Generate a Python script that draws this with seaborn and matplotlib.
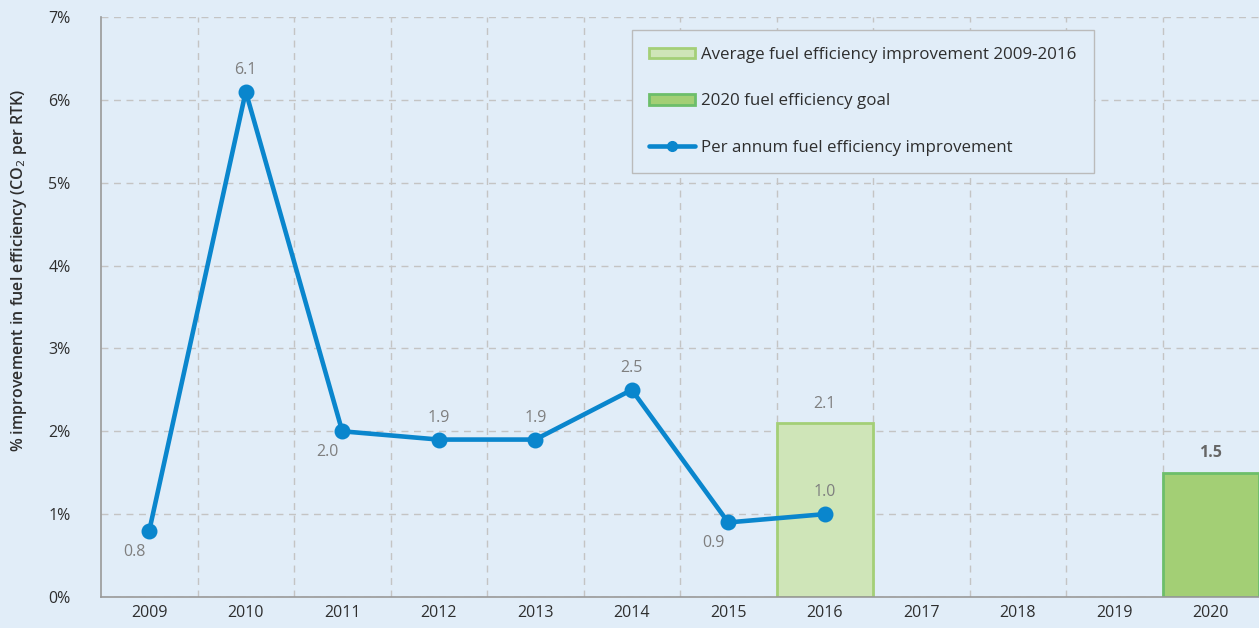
import matplotlib
matplotlib.use('Agg')
import matplotlib.pyplot as plt
import seaborn as sns
import pandas as pd
import numpy as np
from matplotlib.patches import Patch
from matplotlib.lines import Line2D

# data
years = ['2009', '2010', '2011', '2012', '2013', '2014', '2015', '2016',
         '2017', '2018', '2019', '2020']
line_years = ['2009', '2010', '2011', '2012', '2013', '2014', '2015', '2016']
per_annum = [0.8, 6.1, 2.0, 1.9, 1.9, 2.5, 0.9, 1.0]
label_side = ['below', 'above', 'below', 'above', 'above', 'above', 'below', 'above']
avg_year = ['2016']
avg_value = [2.1]
goal_year = ['2020']
goal_value = [1.5]

bg = '#E1EDF8'
line_col = '#0A86CD'
grid_col = '#C4C4C4'
text_col = '#2E2E2E'
label_col = '#7F7F7F'

sns.set_theme(style='white')
plt.rcParams['font.family'] = ['Open Sans', 'DejaVu Sans']

fig = plt.figure(figsize=(12.59, 6.28), dpi=100, facecolor=bg)
ax = fig.add_axes([101 / 1259, 31 / 628, 1158 / 1259, 580 / 628])
ax.set_facecolor(bg)

df_avg = pd.DataFrame({'year': avg_year, 'value': avg_value})
df_goal = pd.DataFrame({'year': goal_year, 'value': goal_value})
df_line = pd.DataFrame({'year': line_years, 'value': per_annum})

sns.barplot(data=df_avg, x='year', y='value', order=years, width=1.0,
            color='#CFE5B8', edgecolor='#A4CF77', linewidth=2, saturation=1,
            ax=ax, zorder=2)
sns.barplot(data=df_goal, x='year', y='value', order=years, width=1.0,
            color='#A3CF75', edgecolor='#6DBE6A', linewidth=2, saturation=1,
            ax=ax, zorder=2)
sns.pointplot(data=df_line, x='year', y='value', order=years, color=line_col,
              markers='o', markersize=9, linewidth=3.3, ax=ax, zorder=3)

# value labels
for yr, v, side in zip(line_years, per_annum, label_side):
    xi = years.index(yr)
    if side == 'above':
        off = (0, 22)
    else:
        off = (-15, -21)
    ax.annotate(f'{v:.1f}', (xi, v), xytext=off, textcoords='offset pixels',
                ha='center', va='center', fontsize=11.5, color=label_col)
for yr, v in zip(avg_year, avg_value):
    ax.annotate(f'{v:.1f}', (years.index(yr), v), xytext=(0, 19),
                textcoords='offset pixels', ha='center', va='center',
                fontsize=11.5, color=label_col)
for yr, v in zip(goal_year, goal_value):
    ax.annotate(f'{v:.1f}', (years.index(yr), v), xytext=(0, 20),
                textcoords='offset pixels', ha='center', va='center',
                fontsize=11.5, color='#666666', fontweight='bold')

ax.set_xlim(-0.5, len(years) - 0.5)
ax.set_ylim(0, 7)
ax.set_yticks(range(0, 8))
ax.set_yticklabels([f'{i}%' for i in range(0, 8)])
ax.set_xticks(range(len(years)))
ax.set_xticklabels(years)
ax.set_xticks(np.arange(0.5, len(years) - 0.5, 1), minor=True)
ax.tick_params(axis='both', which='both', length=0, labelsize=11.5,
               colors=text_col)
ax.tick_params(axis='y', pad=22)
ax.tick_params(axis='x', pad=6)
ax.grid(True, axis='y', which='major', color=grid_col, linestyle=(0, (5, 4)),
        linewidth=1, zorder=0)
ax.grid(True, axis='x', which='minor', color=grid_col, linestyle=(0, (5, 4)),
        linewidth=1, zorder=0)
ax.set_axisbelow(True)

for s in ['top', 'right']:
    ax.spines[s].set_visible(False)
for s in ['left', 'bottom']:
    ax.spines[s].set_color('#999999')
    ax.spines[s].set_linewidth(1.2)

ax.set_xlabel('')
ax.set_ylabel('% improvement in fuel efficiency (CO$_2$ per RTK)',
              fontsize=11.5, fontweight='semibold', color=text_col)
ax.yaxis.set_label_coords(-72 / 1158, (597 - 270) / 580)

handles = [
    Patch(facecolor='#CFE5B8', edgecolor='#A4CF77', linewidth=2),
    Patch(facecolor='#A3CF75', edgecolor='#6DBE6A', linewidth=2),
    Line2D([0], [0], color=line_col, linewidth=3.3, marker='o', markersize=7),
]
labels = ['Average fuel efficiency improvement 2009-2016',
          '2020 fuel efficiency goal',
          'Per annum fuel efficiency improvement']
leg = ax.legend(handles, labels, loc='upper left',
                bbox_to_anchor=((632 - 101) / 1158, (597 - 30) / 580),
                fontsize=12.2, frameon=True, fancybox=False, facecolor=bg,
                edgecolor='#BBBBBB', framealpha=1, labelspacing=1.8,
                handlelength=2.7, handleheight=0.6, borderpad=1.0,
                borderaxespad=0, handletextpad=0.4)
leg.get_frame().set_linewidth(1)
for t in leg.get_texts():
    t.set_color(text_col)

fig.savefig('out.png', dpi=100, facecolor=bg)
